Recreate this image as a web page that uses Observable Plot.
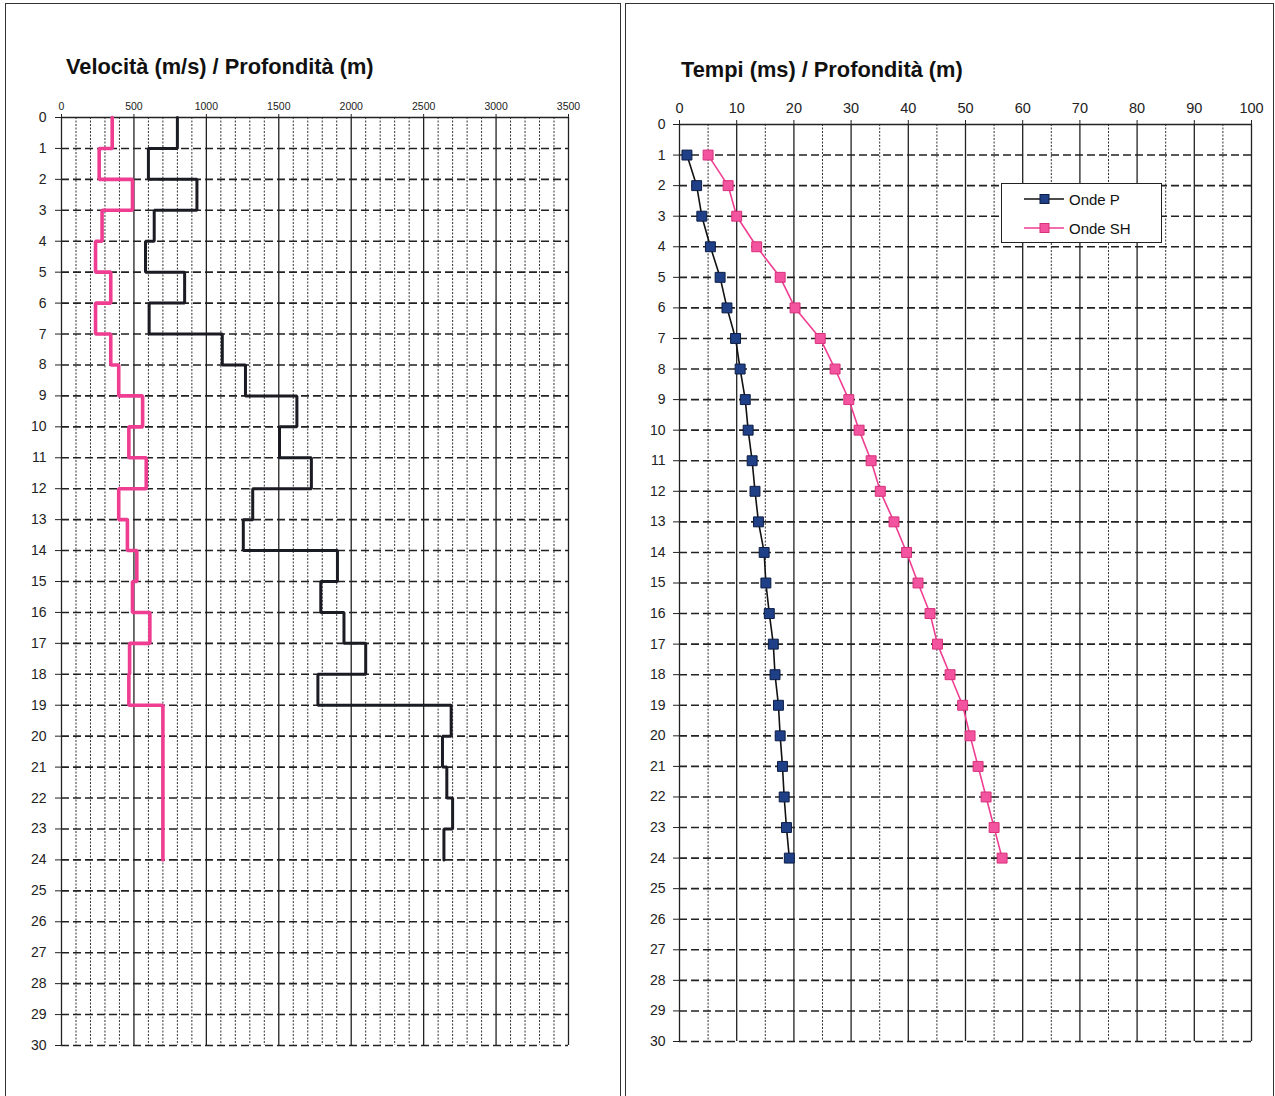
<!DOCTYPE html>
<html><head><meta charset="utf-8">
<script src="https://cdn.jsdelivr.net/npm/d3@7"></script>
<script src="https://cdn.jsdelivr.net/npm/@observablehq/plot@0.6"></script>
<style>
body{margin:0;background:#fff;font-family:"Liberation Sans",Arial,sans-serif;}
#root{position:relative;width:1275px;height:1096px;overflow:hidden;background:#fff;}
.panel{position:absolute;top:3px;height:1110px;border:1.5px solid #333;box-sizing:border-box;}
.title{position:absolute;font-weight:bold;font-size:21.8px;color:#111;white-space:nowrap;}
.chart{position:absolute;top:0;}
.legend{position:absolute;left:1001px;top:183px;width:161px;height:60px;border:1.3px solid #222;box-sizing:border-box;background:#fff;font-size:15px;color:#111;}
.legend .row{position:absolute;left:22px;display:flex;align-items:center;height:20px;}
.legend svg{margin-right:5px;}
</style></head>
<body><div id="root">
<div class="panel" style="left:5px;width:616px;"></div>
<div class="panel" style="left:625px;width:649px;"></div>
<div class="title" style="left:66px;top:54px;">Velocità (m/s) / Profondità (m)</div>
<div class="title" style="left:681px;top:57px;">Tempi (ms) / Profondità (m)</div>
<div class="chart" id="left" style="left:0px;"></div>
<div class="chart" id="right" style="left:625px;"></div>
<div class="legend" id="legend"></div>
</div>
<script>
// ---- data ----
const layerTop    = [0,1,2,3,4,5,6,7,8,9,10,11,12,13,14,15,16,17,18,19,20,21,22,23];
const layerBottom = [1,2,3,4,5,6,7,8,9,10,11,12,13,14,15,16,17,18,19,20,21,22,23,24];
const vs = [350,260,490,280,235,340,235,340,395,560,465,585,395,455,520,490,610,470,465,700,700,700,700,700];
const vp = [800,600,935,640,580,850,605,1110,1270,1625,1505,1725,1320,1255,1905,1790,1950,2100,1770,2690,2630,2660,2700,2640];

const depthT = [1,2,3,4,5,6,7,8,9,10,11,12,13,14,15,16,17,18,19,20,21,22,23,24];
const tP  = [1.3,3.0,3.9,5.4,7.1,8.3,9.8,10.6,11.5,12.0,12.7,13.2,13.8,14.8,15.1,15.7,16.4,16.7,17.3,17.6,18.0,18.3,18.7,19.2];
const tSH = [5.0,8.5,10.0,13.5,17.6,20.2,24.6,27.2,29.6,31.4,33.5,35.1,37.5,39.7,41.7,43.8,45.1,47.3,49.5,50.8,52.2,53.6,55.0,56.4];

const depthTicks = d3.range(0, 31, 1);
const velTicks = [0,500,1000,1500,2000,2500,3000,3500];
const velMinor = d3.range(100, 3500, 100).filter(d => d % 500 !== 0);
const timeTicks = [0,10,20,30,40,50,60,70,80,90,100];
const timeMinor = [5,15,25,35,45,55,65,75,85,95];

const series = ["Onde P", "Onde SH"];
const pink = "#ef3e92";
const navy = "#1f3f86";

function stepPoints(vals) {
  const pts = [];
  vals.forEach((v, i) => { pts.push({x: v, y: layerTop[i]}); pts.push({x: v, y: layerBottom[i]}); });
  return pts;
}

const fmt = d => String(d);

// ---- left chart ----
const left = Plot.plot({
  width: 620, height: 1096,
  marginLeft: 61, marginRight: 52, marginTop: 117, marginBottom: 51,
  x: {domain: [0, 3500], axis: null},
  y: {domain: [0, 30], reverse: true, axis: null},
  style: {background: "transparent", fontFamily: "'Liberation Sans', Arial, sans-serif", color: "#222"},
  marks: [
    Plot.ruleX(velMinor, {stroke: "#333", strokeWidth: 1, strokeDasharray: "2,1.5"}),
    Plot.ruleY(depthTicks.filter(d => d > 0), {stroke: "#222", strokeWidth: 1.6, strokeDasharray: "8,4"}),
    Plot.ruleX(velTicks, {stroke: "#222", strokeWidth: 1.3}),
    Plot.ruleY([0], {stroke: "#222", strokeWidth: 1.6}),
    Plot.axisX({anchor: "top", ticks: velTicks, tickFormat: fmt, tickSize: 4, tickPadding: 4, fontSize: 10.5, label: null, fontFamily: "'Liberation Sans Narrow', 'Liberation Sans', sans-serif"}),
    Plot.axisY({anchor: "left", ticks: depthTicks, tickFormat: fmt, tickSize: 6, tickPadding: 9, fontSize: 14, label: null}),
    Plot.line(stepPoints(vs), {x: "x", y: "y", stroke: pink, strokeWidth: 3.6, strokeLinejoin: "miter"}),
    Plot.line(stepPoints(vp), {x: "x", y: "y", stroke: "#1b1b24", strokeWidth: 3, strokeLinejoin: "miter"})
  ]
});
document.getElementById("left").appendChild(left);

// ---- right chart ----
const timeData = [];
depthT.forEach((d, i) => { timeData.push({s: series[0], t: tP[i], d}); });
depthT.forEach((d, i) => { timeData.push({s: series[1], t: tSH[i], d}); });

const right = Plot.plot({
  width: 650, height: 1096,
  marginLeft: 54, marginRight: 24, marginTop: 124, marginBottom: 55,
  x: {domain: [0, 100], axis: null},
  y: {domain: [0, 30], reverse: true, axis: null},
  color: {domain: series, range: ["#111", pink]},
  style: {background: "transparent", fontFamily: "'Liberation Sans', Arial, sans-serif", color: "#222"},
  marks: [
    Plot.ruleX(timeMinor, {stroke: "#333", strokeWidth: 1, strokeDasharray: "2,1.5"}),
    Plot.ruleY(depthTicks.filter(d => d > 0), {stroke: "#222", strokeWidth: 1.6, strokeDasharray: "8,4"}),
    Plot.ruleX(timeTicks, {stroke: "#222", strokeWidth: 1.3}),
    Plot.ruleY([0], {stroke: "#222", strokeWidth: 1.6}),
    Plot.axisX({anchor: "top", ticks: timeTicks, tickFormat: fmt, tickSize: 5, tickPadding: 7, fontSize: 14.5, label: null}),
    Plot.axisY({anchor: "left", ticks: depthTicks, tickFormat: fmt, tickSize: 6, tickPadding: 8, fontSize: 14, label: null}),
    Plot.line(timeData, {x: "t", y: "d", z: "s", stroke: "s", strokeWidth: 1.6}),
    Plot.dot(timeData.filter(d => d.s === series[0]), {x: "t", y: "d", symbol: "square", r: 5.6, fill: navy, stroke: "#0d1d44", strokeWidth: 1}),
    Plot.dot(timeData.filter(d => d.s === series[1]), {x: "t", y: "d", symbol: "square", r: 5.6, fill: "#f2549f", stroke: "#d8307a", strokeWidth: 1})
  ]
});
document.getElementById("right").appendChild(right);

// ---- legend ----
const legend = document.getElementById("legend");
[[series[0], "#111", navy, "#0d1d44"], [series[1], pink, "#f2549f", "#d8307a"]].forEach(([name, lc, fc, sc], i) => {
  const row = document.createElement("div");
  row.className = "row";
  row.style.top = (5 + i * 29) + "px";
  row.innerHTML = `<svg width="40" height="14"><line x1="0" y1="7" x2="40" y2="7" stroke="${lc}" stroke-width="1.6"/><rect x="16" y="2.5" width="9" height="9" fill="${fc}" stroke="${sc}" stroke-width="1"/></svg><span>${name}</span>`;
  legend.appendChild(row);
});
</script>
</body></html>
